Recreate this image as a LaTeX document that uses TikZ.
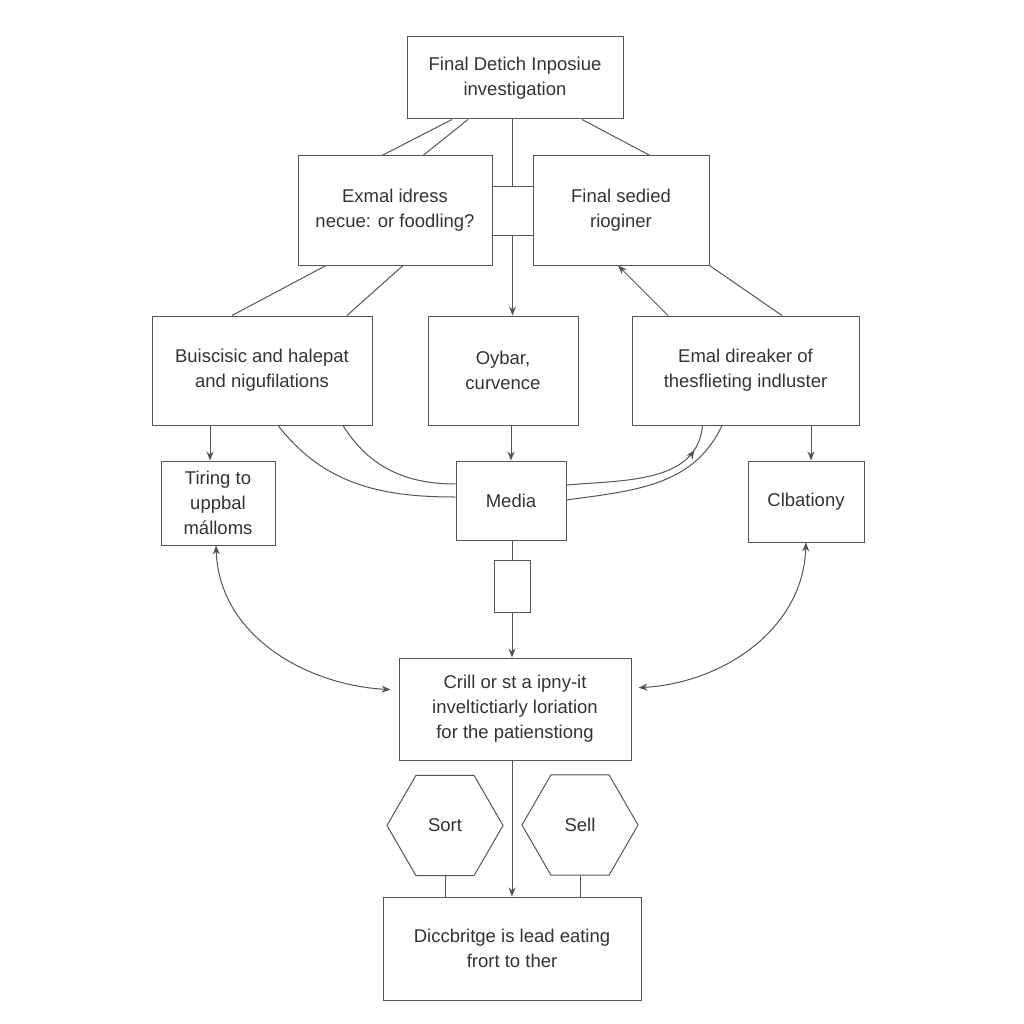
\documentclass[tikz,border=0pt]{standalone}
\usepackage{fontspec}
\setmainfont{Liberation Sans}
\usetikzlibrary{arrows.meta,shapes.geometric,decorations.markings}
\definecolor{ink}{HTML}{333333}
\definecolor{ln}{HTML}{555555}
\begin{document}
\begin{tikzpicture}[x=1pt,y=1pt,
  box/.style={draw=ln,line width=1pt,rectangle,inner sep=0pt,text=ink,align=center,
    font=\fontsize{18.5}{25}\selectfont},
  hexa/.style={draw=ln,line width=1pt,regular polygon,regular polygon sides=6,
    minimum size=116pt,inner sep=0pt,text=ink,font=\fontsize{18.5}{25}\selectfont},
  conn/.style={draw=ln,line width=1pt},
  arr/.style={conn,-{Stealth[length=9pt,width=7pt]}},
  darr/.style={conn,{Stealth[length=9pt,width=7pt]}-{Stealth[length=9pt,width=7pt]}},
  midarr/.style={conn,postaction={decorate},decoration={markings,
    mark=at position #1 with {\arrow{Stealth[length=9pt,width=7pt]}}}}
]
\fill[white] (0,0) rectangle (1024,-1024);
\useasboundingbox (0,0) rectangle (1024,-1024);

\node[box,minimum width=216pt,minimum height=82pt] (top) at (515,-78) {Final Detich Inposiue\\investigation};
\node[box,minimum width=194pt,minimum height=109pt] (A) at (395,-210.5) {Exmal idress\\necue: or foodling?};
\node[box,minimum width=41pt,minimum height=48pt] (sq) at (512.5,-211) {};
\node[box,minimum width=176pt,minimum height=109pt] (B) at (621,-210.5) {Final sedied\\rioginer};

\node[box,minimum width=220pt,minimum height=109pt] (C) at (262,-370.5) {Buiscisic and halepat\\and nigufilations};
\node[box,minimum width=150pt,minimum height=109pt] (D) at (503,-370.5) {Oybar,\\curvence};
\node[box,minimum width=227pt,minimum height=109pt] (E) at (745.5,-370.5) {Emal direaker of\\thesflieting indluster};

\node[box,minimum width=114pt,minimum height=84pt] (F) at (218,-503) {Tiring to\\uppbal\\málloms};
\node[box,minimum width=110pt,minimum height=79pt] (M) at (511,-500.5) {Media};
\node[box,minimum width=116pt,minimum height=81pt] (G) at (806,-501.5) {Clbationy};

\node[box,minimum width=36pt,minimum height=52pt] (sm) at (512,-586) {};
\node[box,minimum width=232pt,minimum height=102pt] (H) at (515,-709) {Crill or st a ipny-it\\inveltictiarly loriation\\for the patienstiong};

\node[hexa] (so) at (445,-825.5) {Sort};
\node[hexa] (se) at (580,-825) {Sell};
\node[box,minimum width=258pt,minimum height=103pt] (bot) at (512,-948.5) {Diccbritge is lead eating\\frort to ther};

% top connections
\draw[conn] ([xshift=-63pt]top.south) -- ([xshift=-13pt]A.north);
\draw[conn] ([xshift=-47pt]top.south) -- ([xshift=28pt]A.north);
\draw[conn] ([xshift=67pt]top.south) -- ([xshift=29pt]B.north);
\draw[conn] (top.south -| sq.north) -- (sq.north);
\draw[arr] (sq.south) -- (sq.south |- D.north);

% row 2 to row 3
\draw[conn] ([xshift=-69pt]A.south) -- ([xshift=-30pt]C.north);
\draw[conn] ([xshift=8pt]A.south) -- ([xshift=85pt]C.north);
\draw[arr] ([xshift=-77.5pt]E.north) -- ([xshift=-3pt]B.south);
\draw[conn] (B.south east) -- ([xshift=36.5pt]E.north);

% row 3 to row 4
\draw[arr] ([xshift=-52pt]C.south) -- ([xshift=-8pt]F.north);
\draw[arr] (D.south -| M.north) -- (M.north);
\draw[arr] ([xshift=65.5pt]E.south) -- ([xshift=5pt]G.north);

% curves to media
\draw[conn] ([xshift=16pt]C.south) to[out=-52,in=180] ([yshift=3.5pt]M.west);
\draw[conn] ([xshift=81pt]C.south) to[out=-58,in=180] ([yshift=16.5pt]M.west);
\draw[midarr=0.84] ([yshift=15.5pt]M.east) to[out=5,in=-95] ([xshift=-43pt]E.south);
\draw[conn] ([yshift=0.5pt]M.east) to[out=8,in=-115] ([xshift=-23.5pt]E.south);

% media down
\draw[conn] (M.south) -- (M.south -| sm.north) -- (sm.north);
\draw[arr] (sm.south) -- (sm.south |- H.north);

% double arrows
\draw[darr,shorten >=8pt] ([xshift=-2pt]F.south) to[out=-88,in=177] ([yshift=19pt]H.west);
\draw[darr,shorten >=7pt] (G.south) to[out=-92,in=3] ([yshift=21pt]H.east);

% bottom
\draw[arr] (H.south -| bot.north) -- (bot.north);
\draw[conn] (so.south) -- (so.south |- bot.north);
\draw[conn] (se.south) -- (se.south |- bot.north);
\end{tikzpicture}
\end{document}
